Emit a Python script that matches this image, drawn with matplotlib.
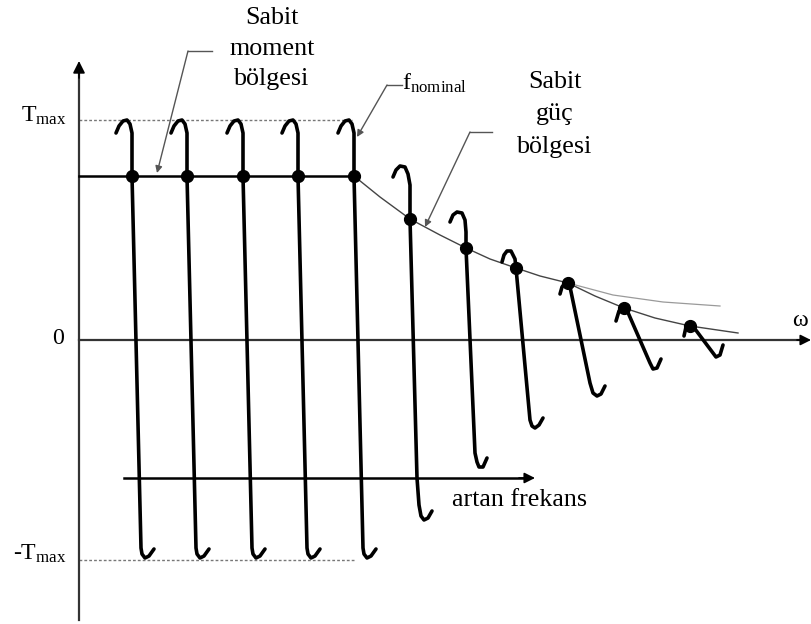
import matplotlib
matplotlib.use('Agg')
import matplotlib.pyplot as plt

plt.rcParams['font.family'] = ['Liberation Serif', 'DejaVu Serif']
plt.rcParams['mathtext.fontset'] = 'custom'
plt.rcParams['mathtext.rm'] = 'Liberation Serif'
plt.rcParams['mathtext.it'] = 'Liberation Serif:italic'

# ---------------- data (schematic units: omega, torque) ----------------
T_MAX = 220
T_RATED = 164

# constant-torque region: identical curves, rated-point speeds
rated_speeds = [53, 108, 164, 219, 275]
base_dw = [-16, -13, -9, -5, -2, 0, 0, 0, 9, 10, 13, 17, 22]
base_T = [207, 214, 219, 220, 216, 207, 195, 164, -208, -214, -218, -216, -209]

# field-weakening region curves
fw_w = [
    [314, 317, 321, 326, 329, 331, 331, 338, 340, 342, 345, 349, 353],
    [371, 374, 378, 383, 386, 387, 387, 396, 398, 400, 404, 408],
    [423, 425, 428, 432, 436, 437, 451, 453, 456, 460, 464],
    [481, 483, 486, 490, 511, 514, 518, 522, 526],
    [537, 540, 543, 547, 571, 574, 578, 582],
    [605, 607, 610, 613, 634, 637, 641, 644],
]
fw_T = [
    [163, 170, 174, 173, 166, 155, 121, -138, -165, -176, -180, -178, -171],
    [118, 125, 128, 127, 120, 108, 92, -113, -122, -127, -127, -118],
    [78, 85, 89, 89, 81, 72, -80, -86, -88, -85, -78],
    [46, 53, 57, 58, -43, -53, -56, -54, -46],
    [19, 29, 33, 32, -23, -29, -28, -19],
    [4, 13, 17, 15, -13, -17, -15, -5],
]
fw_dots_w = [331, 387, 437, 489, 545, 611]
fw_dots_T = [121, 92, 72, 57, 32, 14]

# operating envelope and constant-power hyperbola
env_w = [275, 301, 331, 361, 387, 411, 437, 461, 489, 516, 545, 576, 611, 659]
env_T = [164, 143, 121, 105, 92, 81, 72, 64, 57, 44, 32, 22, 14, 7]
hyp_w = [489, 534, 584, 641]
hyp_T = [57, 45, 38, 34]

# ---------------- figure ----------------
fig = plt.figure(figsize=(8.11, 6.24), dpi=100)
ax = fig.add_axes([0, 0, 1, 1])
ax.set_xlim(-79, 732)
ax.set_ylim(-284, 340)
ax.axis('off')

axis_col = '#333333'
lead_col = '#555555'

# axes with arrows
ax.plot([0, 0], [-280, 270], color=axis_col, lw=1.6, zorder=2)
ax.annotate('', xy=(0, 279), xytext=(0, 262),
            arrowprops=dict(arrowstyle='-|>', color='black', lw=1.2,
                            mutation_scale=18, shrinkA=0, shrinkB=0))
ax.plot([0, 722], [0, 0], color=axis_col, lw=1.6, zorder=2)
ax.annotate('', xy=(732, 0), xytext=(718, 0),
            arrowprops=dict(arrowstyle='-|>', color='black', lw=1.2,
                            mutation_scale=16, shrinkA=0, shrinkB=0))

# dotted Tmax lines and rated torque line
ax.plot([0, 273], [T_MAX, T_MAX], color='#777777', lw=1.0, ls=(0, (2, 1.5)), zorder=1)
ax.plot([0, 276], [-T_MAX, -T_MAX], color='#777777', lw=1.0, ls=(0, (2, 1.5)), zorder=1)
ax.plot([0, rated_speeds[-1]], [T_RATED, T_RATED], color='black', lw=1.8, zorder=3)

# envelope curves
ax.plot(env_w, env_T, color='#444444', lw=1.0, zorder=3)
ax.plot(hyp_w, hyp_T, color='#9a9a9a', lw=0.9, zorder=3)

# torque-speed curves
curve_kw = dict(color='black', lw=2.6, solid_joinstyle='round',
                solid_capstyle='round', zorder=4)
for ws in rated_speeds:
    ax.plot([ws + d for d in base_dw], base_T, **curve_kw)
for w, t in zip(fw_w, fw_T):
    ax.plot(w, t, **curve_kw)

# operating points
ax.plot(rated_speeds, [T_RATED] * len(rated_speeds), 'o', color='black',
        ms=8.5, zorder=5)
ax.plot(fw_dots_w, fw_dots_T, 'o', color='black', ms=8.5, zorder=5)

# increasing frequency arrow
ax.plot([45, 445], [-138, -138], color='black', lw=1.8, zorder=3)
ax.annotate('', xy=(456, -138), xytext=(440, -138),
            arrowprops=dict(arrowstyle='-|>', color='black', lw=1.2,
                            mutation_scale=16, shrinkA=0, shrinkB=0))
ax.text(373, -160, 'artan frekans', fontsize=18.7, ha='left', va='center')

# leaders
def leader(h0, h1, tip):
    ax.plot([h0[0], h1[0]], [h0[1], h1[1]], color=lead_col, lw=1.0, zorder=3)
    ax.annotate('', xy=tip, xytext=h1,
                arrowprops=dict(arrowstyle='-|>', color=lead_col, lw=1.0,
                                mutation_scale=10, shrinkA=0, shrinkB=0),
                zorder=6)

leader((133, 289), (109, 289), (78, 167))
leader((323, 255), (308, 255), (278, 203))
leader((413, 208), (391, 208), (346, 113))

# texts
for txt, y in zip(['Sabit', 'moment', 'bölgesi'], [322, 291, 261]):
    ax.text(193, y, txt, fontsize=18.7, ha='center', va='center')
for txt, y in zip(['Sabit', 'güç', 'bölgesi'], [258, 226, 193]):
    ax.text(476, y, txt, fontsize=18.7, ha='center', va='center')

ax.text(323, 257, r'f$_{\mathrm{nominal}}$', fontsize=17.3, ha='left', va='center')
ax.text(-12, 224, r'T$_{\mathrm{max}}$', fontsize=17.3, ha='right', va='center')
ax.text(-12, -214, r'-T$_{\mathrm{max}}$', fontsize=17.3, ha='right', va='center')
ax.text(-21, 2, '0', fontsize=17.3, ha='center', va='center')
ax.text(721, 19, 'ω', fontsize=17.3, ha='center', va='center')

fig.savefig('out.png', dpi=100)
